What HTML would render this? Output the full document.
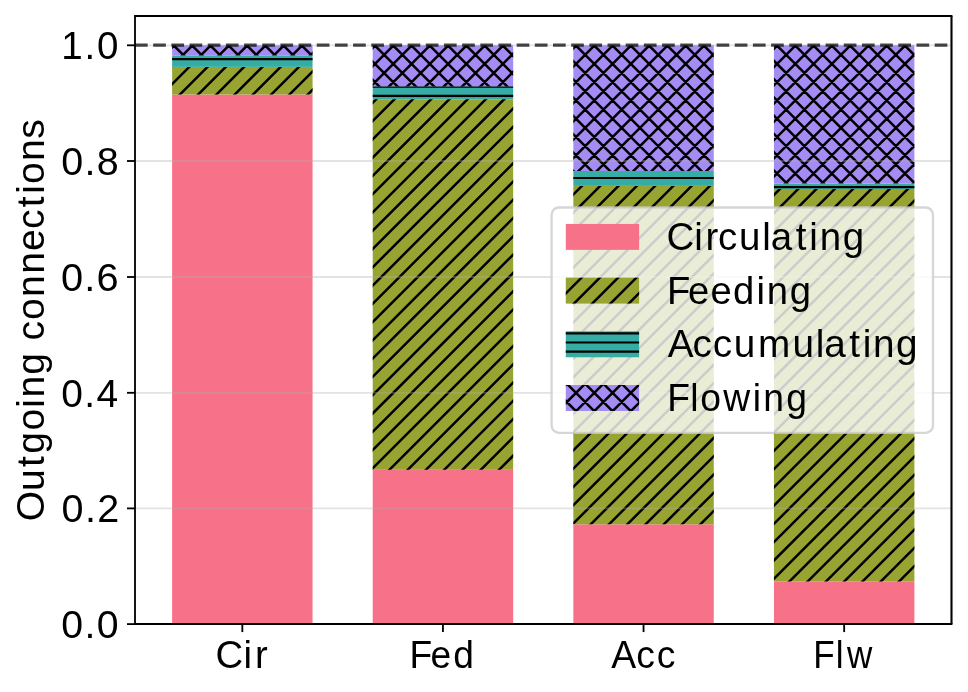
<!DOCTYPE html>
<html><head><meta charset="utf-8"><style>
html,body{margin:0;padding:0;background:#fff;}
body{position:relative;width:968px;height:692px;overflow:hidden;}
svg{display:block;}
text{font-family:"Liberation Sans",sans-serif;fill:#000;}
</style></head><body>
<svg width="968" height="692" viewBox="0 0 968 692">
<defs><clipPath id="cb1"><rect x="172.12" y="66.9" width="140.43" height="27.6"/><rect x="372.73" y="99.3" width="140.43" height="370.5"/><rect x="573.34" y="185.9" width="140.43" height="338.4"/><rect x="773.95" y="188.9" width="140.43" height="392.5"/></clipPath><clipPath id="cb2"><rect x="172.12" y="55.4" width="140.43" height="11.5"/><rect x="372.73" y="86.5" width="140.43" height="12.8"/><rect x="573.34" y="171" width="140.43" height="14.9"/><rect x="773.95" y="183.6" width="140.43" height="5.3"/></clipPath><clipPath id="cb3"><rect x="172.12" y="45.2" width="140.43" height="10.2"/><rect x="372.73" y="45.2" width="140.43" height="41.3"/><rect x="573.34" y="45.2" width="140.43" height="125.8"/><rect x="773.95" y="45.2" width="140.43" height="138.4"/></clipPath><clipPath id="cl1"><rect x="565.8" y="277.63" width="73.3" height="25.95"/></clipPath><clipPath id="cl2"><rect x="565.8" y="331.33" width="73.3" height="25.95"/></clipPath><clipPath id="cl3"><rect x="565.8" y="385.03" width="73.3" height="25.95"/></clipPath></defs>
<rect width="968" height="692" fill="#fff"/>
<rect x="172.12" y="94.5" width="140.43" height="529.6" fill="#f77189"/>
<rect x="372.73" y="469.8" width="140.43" height="154.3" fill="#f77189"/>
<rect x="573.34" y="524.3" width="140.43" height="99.8" fill="#f77189"/>
<rect x="773.95" y="581.4" width="140.43" height="42.7" fill="#f77189"/>
<rect x="172.12" y="66.9" width="140.43" height="27.6" fill="#97a431"/>
<rect x="372.73" y="99.3" width="140.43" height="370.5" fill="#97a431"/>
<rect x="573.34" y="185.9" width="140.43" height="338.4" fill="#97a431"/>
<rect x="773.95" y="188.9" width="140.43" height="392.5" fill="#97a431"/>
<rect x="172.12" y="55.4" width="140.43" height="11.5" fill="#36ada4"/>
<rect x="372.73" y="86.5" width="140.43" height="12.8" fill="#36ada4"/>
<rect x="573.34" y="171" width="140.43" height="14.9" fill="#36ada4"/>
<rect x="773.95" y="183.6" width="140.43" height="5.3" fill="#36ada4"/>
<rect x="172.12" y="45.2" width="140.43" height="10.2" fill="#a48cf4"/>
<rect x="372.73" y="45.2" width="140.43" height="41.3" fill="#a48cf4"/>
<rect x="573.34" y="45.2" width="140.43" height="125.8" fill="#a48cf4"/>
<rect x="773.95" y="45.2" width="140.43" height="138.4" fill="#a48cf4"/>
<path clip-path="url(#cb1)" d="M-384.07 585.4L138.42 62.9M-365.8 585.4L156.7 62.9M-347.52 585.4L174.97 62.9M-329.25 585.4L193.25 62.9M-310.97 585.4L211.53 62.9M-292.7 585.4L229.8 62.9M-274.43 585.4L248.07 62.9M-256.15 585.4L266.35 62.9M-237.88 585.4L284.62 62.9M-219.6 585.4L302.9 62.9M-201.32 585.4L321.17 62.9M-183.05 585.4L339.45 62.9M-164.77 585.4L357.73 62.9M-146.5 585.4L376 62.9M-128.23 585.4L394.27 62.9M-109.95 585.4L412.55 62.9M-91.68 585.4L430.82 62.9M-73.4 585.4L449.1 62.9M-55.13 585.4L467.37 62.9M-36.85 585.4L485.65 62.9M-18.58 585.4L503.92 62.9M-0.3 585.4L522.2 62.9M17.97 585.4L540.47 62.9M36.25 585.4L558.75 62.9M54.52 585.4L577.02 62.9M72.8 585.4L595.3 62.9M91.07 585.4L613.57 62.9M109.35 585.4L631.85 62.9M127.62 585.4L650.12 62.9M145.9 585.4L668.4 62.9M164.17 585.4L686.67 62.9M182.45 585.4L704.95 62.9M200.72 585.4L723.22 62.9M219 585.4L741.5 62.9M237.27 585.4L759.77 62.9M255.55 585.4L778.05 62.9M273.82 585.4L796.32 62.9M292.1 585.4L814.6 62.9M310.37 585.4L832.87 62.9M328.65 585.4L851.15 62.9M346.92 585.4L869.42 62.9M365.2 585.4L887.7 62.9M383.47 585.4L905.97 62.9M401.75 585.4L924.25 62.9M420.02 585.4L942.52 62.9M438.3 585.4L960.8 62.9M456.57 585.4L979.07 62.9M474.85 585.4L997.35 62.9M493.12 585.4L1015.62 62.9M511.4 585.4L1033.9 62.9M529.67 585.4L1052.17 62.9M547.95 585.4L1070.45 62.9M566.22 585.4L1088.72 62.9M584.5 585.4L1107 62.9M602.77 585.4L1125.27 62.9M621.05 585.4L1143.55 62.9M639.32 585.4L1161.82 62.9M657.6 585.4L1180.1 62.9M675.87 585.4L1198.37 62.9M694.15 585.4L1216.65 62.9M712.42 585.4L1234.92 62.9M730.7 585.4L1253.2 62.9M748.97 585.4L1271.47 62.9M767.25 585.4L1289.75 62.9M785.52 585.4L1308.02 62.9M803.8 585.4L1326.3 62.9M822.07 585.4L1344.57 62.9M840.35 585.4L1362.85 62.9M858.62 585.4L1381.12 62.9M876.9 585.4L1399.4 62.9M895.17 585.4L1417.67 62.9M913.45 585.4L1435.95 62.9M931.72 585.4L1454.22 62.9M950 585.4L1472.5 62.9" stroke="#000" stroke-width="2.5" fill="none"/>
<path clip-path="url(#cb2)" d="M168.12 40.95H918.37M168.12 50.09H918.37M168.12 59.22H918.37M168.12 68.36H918.37M168.12 77.5H918.37M168.12 86.64H918.37M168.12 95.78H918.37M168.12 104.91H918.37M168.12 114.05H918.37M168.12 123.19H918.37M168.12 132.32H918.37M168.12 141.46H918.37M168.12 150.6H918.37M168.12 159.74H918.37M168.12 168.88H918.37M168.12 178.01H918.37M168.12 187.15H918.37M168.12 196.29H918.37M168.12 205.42H918.37" stroke="#000" stroke-width="2.2" fill="none"/>
<path clip-path="url(#cb3)" d="M-4.55 187.6L141.85 41.2M13.73 187.6L160.12 41.2M32 187.6L178.4 41.2M50.28 187.6L196.68 41.2M68.55 187.6L214.95 41.2M86.83 187.6L233.23 41.2M105.1 187.6L251.5 41.2M123.38 187.6L269.77 41.2M141.65 187.6L288.05 41.2M159.93 187.6L306.32 41.2M178.2 187.6L324.6 41.2M196.48 187.6L342.88 41.2M214.75 187.6L361.15 41.2M233.03 187.6L379.43 41.2M251.3 187.6L397.7 41.2M269.57 187.6L415.97 41.2M287.85 187.6L434.25 41.2M306.12 187.6L452.52 41.2M324.4 187.6L470.8 41.2M342.67 187.6L489.07 41.2M360.95 187.6L507.35 41.2M379.22 187.6L525.62 41.2M397.5 187.6L543.9 41.2M415.77 187.6L562.17 41.2M434.05 187.6L580.45 41.2M452.32 187.6L598.72 41.2M470.6 187.6L617 41.2M488.87 187.6L635.27 41.2M507.15 187.6L653.55 41.2M525.42 187.6L671.82 41.2M543.7 187.6L690.1 41.2M561.97 187.6L708.37 41.2M580.25 187.6L726.65 41.2M598.52 187.6L744.92 41.2M616.8 187.6L763.2 41.2M635.07 187.6L781.47 41.2M653.35 187.6L799.75 41.2M671.62 187.6L818.02 41.2M689.9 187.6L836.3 41.2M708.17 187.6L854.57 41.2M726.45 187.6L872.85 41.2M744.72 187.6L891.12 41.2M763 187.6L909.4 41.2M781.27 187.6L927.67 41.2M799.55 187.6L945.95 41.2M817.82 187.6L964.22 41.2M836.1 187.6L982.5 41.2M854.38 187.6L1000.77 41.2M872.65 187.6L1019.05 41.2M890.92 187.6L1037.32 41.2M909.2 187.6L1055.6 41.2M927.47 187.6L1073.87 41.2M945.75 187.6L1092.15 41.2M-13.22 41.2L133.17 187.6M5.05 41.2L151.45 187.6M23.33 41.2L169.72 187.6M41.6 41.2L188 187.6M59.88 41.2L206.27 187.6M78.15 41.2L224.55 187.6M96.42 41.2L242.82 187.6M114.7 41.2L261.1 187.6M132.98 41.2L279.38 187.6M151.25 41.2L297.65 187.6M169.52 41.2L315.92 187.6M187.8 41.2L334.2 187.6M206.07 41.2L352.47 187.6M224.35 41.2L370.75 187.6M242.62 41.2L389.02 187.6M260.9 41.2L407.3 187.6M279.18 41.2L425.57 187.6M297.45 41.2L443.85 187.6M315.72 41.2L462.12 187.6M334 41.2L480.4 187.6M352.27 41.2L498.67 187.6M370.55 41.2L516.95 187.6M388.82 41.2L535.22 187.6M407.1 41.2L553.5 187.6M425.37 41.2L571.77 187.6M443.65 41.2L590.05 187.6M461.92 41.2L608.32 187.6M480.2 41.2L626.6 187.6M498.47 41.2L644.87 187.6M516.75 41.2L663.15 187.6M535.02 41.2L681.42 187.6M553.3 41.2L699.7 187.6M571.57 41.2L717.97 187.6M589.85 41.2L736.25 187.6M608.12 41.2L754.52 187.6M626.4 41.2L772.8 187.6M644.67 41.2L791.07 187.6M662.95 41.2L809.35 187.6M681.23 41.2L827.62 187.6M699.5 41.2L845.9 187.6M717.77 41.2L864.17 187.6M736.05 41.2L882.45 187.6M754.32 41.2L900.72 187.6M772.6 41.2L919 187.6M790.88 41.2L937.27 187.6M809.15 41.2L955.55 187.6M827.42 41.2L973.82 187.6M845.7 41.2L992.1 187.6M863.97 41.2L1010.37 187.6M882.25 41.2L1028.65 187.6M900.52 41.2L1046.92 187.6M918.8 41.2L1065.2 187.6M937.07 41.2L1083.47 187.6" stroke="#000" stroke-width="2.5" fill="none"/>
<line x1="135.0" x2="951.5" y1="624.1" y2="624.1" stroke="#b0b0b0" stroke-opacity="0.35" stroke-width="1.83"/>
<line x1="135.0" x2="951.5" y1="508.4" y2="508.4" stroke="#b0b0b0" stroke-opacity="0.35" stroke-width="1.83"/>
<line x1="135.0" x2="951.5" y1="392.8" y2="392.8" stroke="#b0b0b0" stroke-opacity="0.35" stroke-width="1.83"/>
<line x1="135.0" x2="951.5" y1="277" y2="277" stroke="#b0b0b0" stroke-opacity="0.35" stroke-width="1.83"/>
<line x1="135.0" x2="951.5" y1="161" y2="161" stroke="#b0b0b0" stroke-opacity="0.35" stroke-width="1.83"/>
<line x1="135.0" x2="951.5" y1="45.3" y2="45.3" stroke="#b0b0b0" stroke-opacity="0.35" stroke-width="1.83"/>
<line x1="135.0" x2="951.5" y1="45.1" y2="45.1" stroke="#000" stroke-opacity="0.72" stroke-width="3.42" stroke-dasharray="12.69 5.484"/>
<path d="M135 16V624M135 16H951.5M135 624H951.5" fill="none" stroke="#000" stroke-width="1.83" stroke-linecap="square"/>
<path d="M951.5 16V624" fill="none" stroke="#000" stroke-width="2.1"/>
<line x1="127.02" x2="135.0" y1="624.1" y2="624.1" stroke="#000" stroke-width="1.83"/>
<line x1="127.02" x2="135.0" y1="508.4" y2="508.4" stroke="#000" stroke-width="1.83"/>
<line x1="127.02" x2="135.0" y1="392.8" y2="392.8" stroke="#000" stroke-width="1.83"/>
<line x1="127.02" x2="135.0" y1="277" y2="277" stroke="#000" stroke-width="1.83"/>
<line x1="127.02" x2="135.0" y1="161" y2="161" stroke="#000" stroke-width="1.83"/>
<line x1="127.02" x2="135.0" y1="45.3" y2="45.3" stroke="#000" stroke-width="1.83"/>
<line x1="242.33" x2="242.33" y1="624.1" y2="632.08" stroke="#000" stroke-width="1.83"/>
<line x1="442.94" x2="442.94" y1="624.1" y2="632.08" stroke="#000" stroke-width="1.83"/>
<line x1="643.55" x2="643.55" y1="624.1" y2="632.08" stroke="#000" stroke-width="1.83"/>
<line x1="844.16" x2="844.16" y1="624.1" y2="632.08" stroke="#000" stroke-width="1.83"/>
<rect x="551.6" y="207.5" width="381.4" height="225.3" rx="7.3" ry="7.3" fill="#fff" fill-opacity="0.8" stroke="#ccc" stroke-opacity="0.8" stroke-width="2.28"/>
<rect x="565.8" y="223.93" width="73.3" height="25.95" fill="#f77189"/>
<rect x="565.8" y="277.63" width="73.3" height="25.95" fill="#97a431"/>
<rect x="565.8" y="331.33" width="73.3" height="25.95" fill="#36ada4"/>
<rect x="565.8" y="385.03" width="73.3" height="25.95" fill="#a48cf4"/>
<path clip-path="url(#cl1)" d="M496.82 307.58L530.77 273.63M515.09 307.58L549.04 273.63M533.37 307.58L567.32 273.63M551.64 307.58L585.59 273.63M569.92 307.58L603.87 273.63M588.19 307.58L622.14 273.63M606.47 307.58L640.42 273.63M624.74 307.58L658.69 273.63M643.02 307.58L676.97 273.63M661.29 307.58L695.24 273.63M679.57 307.58L713.52 273.63" stroke="#000" stroke-width="2.5" fill="none"/>
<path clip-path="url(#cl2)" d="M561.8 315.07H643.1M561.8 324.21H643.1M561.8 333.35H643.1M561.8 342.49H643.1M561.8 351.62H643.1M561.8 360.76H643.1M561.8 369.9H643.1M561.8 379.04H643.1" stroke="#000" stroke-width="2.2" fill="none"/>
<path clip-path="url(#cl3)" d="M499.07 414.98L533.02 381.03M517.34 414.98L551.29 381.03M535.62 414.98L569.57 381.03M553.89 414.98L587.84 381.03M572.17 414.98L606.12 381.03M590.44 414.98L624.39 381.03M608.72 414.98L642.67 381.03M626.99 414.98L660.94 381.03M645.27 414.98L679.22 381.03M663.54 414.98L697.49 381.03M509.36 381.03L543.31 414.98M527.63 381.03L561.58 414.98M545.9 381.03L579.86 414.98M564.18 381.03L598.13 414.98M582.46 381.03L616.4 414.98M600.73 381.03L634.68 414.98M619 381.03L652.96 414.98M637.28 381.03L671.23 414.98M655.56 381.03L689.5 414.98M673.83 381.03L707.78 414.98" stroke="#000" stroke-width="2.5" fill="none"/>
</svg>
<svg width="968" height="692" viewBox="0 0 968 692" style="position:absolute;left:0;top:0;will-change:transform">
<text x="156.2 215.2 246.5" y="0" transform="translate(0 637.94) scale(0.39244 0.39477)" font-size="100">0.0</text>
<text x="155.4 215.2 245.9" y="0" transform="translate(0 522.24) scale(0.39534 0.39477)" font-size="100">0.2</text>
<text x="157.3 216.4 247.6" y="0" transform="translate(0 406.64) scale(0.38970 0.39477)" font-size="100">0.4</text>
<text x="153.7 212.1 242.6" y="0" transform="translate(0 290.84) scale(0.39763 0.39477)" font-size="100">0.6</text>
<text x="155.1 213.9 244.9" y="0" transform="translate(0 174.84) scale(0.39489 0.39477)" font-size="100">0.8</text>
<text x="158.8 219.2 251.4" y="0" transform="translate(0 59.14) scale(0.38554 0.39477)" font-size="100">1.0</text>
<text x="562.7 635.8 665.6" y="0" transform="translate(0 667.95) scale(0.38294 0.38743)" font-size="100">Cir</text>
<text x="1103.6 1160.4 1221.8" y="0" transform="translate(0 667.95) scale(0.37108 0.38743)" font-size="100">Fed</text>
<text x="1637.9 1704.8 1759.5" y="0" transform="translate(0 667.95) scale(0.37320 0.38743)" font-size="100">Acc</text>
<text x="2317.8 2381.9 2414.3" y="0" transform="translate(0 667.95) scale(0.35083 0.38743)" font-size="100">Flw</text>
<text x="-7.3 70.0 131.8 165.7 224.5 282.8 308.9 367.5 423.1 454.9 507.5 566.0 625.2 683.6 739.6 795.7 830.1 854.9 913.4 970.7" y="0" transform="translate(44.1 518.45) rotate(-90) scale(0.39126 0.38743)" font-size="100">Outgoing connections</text>
<text x="1733.6 1805.8 1834.9 1867.5 1922.2 1982.6 2004.8 2070.1 2105.2 2132.1 2191.9" y="0" transform="translate(0 249.8) scale(0.38444 0.38743)" font-size="100">Circulating</text>
<text x="1746.5 1801.5 1860.5 1919.7 1980.9 2008.1 2068.2" y="0" transform="translate(0 303.5) scale(0.38186 0.38743)" font-size="100">Feeding</text>
<text x="1724.0 1788.0 1840.0 1894.0 1956.7 2046.1 2106.1 2127.9 2192.6 2227.4 2253.9 2313.1" y="0" transform="translate(0 357.2) scale(0.38736 0.38743)" font-size="100">Accumulating</text>
<text x="1790.6 1852.1 1879.2 1941.2 2020.2 2048.5 2110.1" y="0" transform="translate(0 410.9) scale(0.37263 0.38743)" font-size="100">Flowing</text>
</svg>
</body></html>
